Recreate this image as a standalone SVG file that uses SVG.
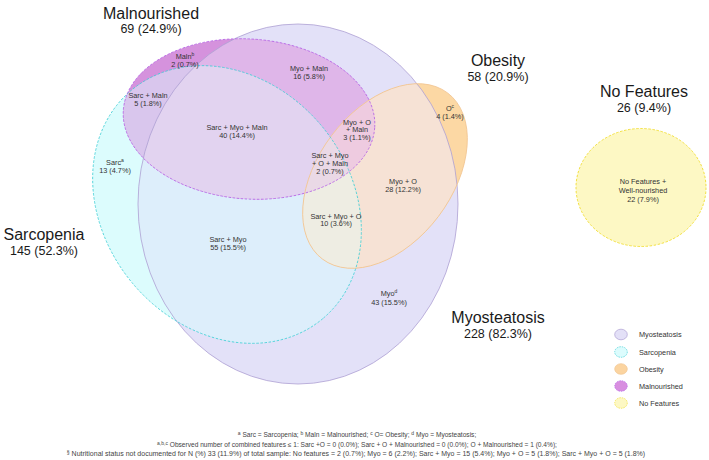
<svg xmlns="http://www.w3.org/2000/svg" xmlns:xlink="http://www.w3.org/1999/xlink" width="709" height="460" viewBox="0 0 709 460">
<style>
text{font-family:"Liberation Sans",Arial,Helvetica,sans-serif}
.big{font-size:16px;fill:#1a1a1a;text-anchor:middle}
.num{font-size:12.5px;fill:#1a1a1a;text-anchor:middle}
.lbl{font-size:7.3px;fill:#333;text-anchor:middle}
.sup{font-size:5px}
.leg{font-size:7.3px;fill:#333}
.foot{font-size:6.6px;fill:#444;text-anchor:middle}
.o-myo{fill:none;stroke:#ad9fd3;stroke-width:0.8}
.o-sarc{fill:none;stroke:#3fcfd6;stroke-width:0.8;stroke-dasharray:2.5 1.6}
.o-maln{fill:none;stroke:#b25fe6;stroke-width:0.8;stroke-dasharray:2.5 1.6}
.o-ob{fill:none;stroke:#f1c592;stroke-width:0.8}
.o-nf{fill:#fdf8c4;stroke:#f0dc2e;stroke-width:0.9;stroke-dasharray:2.5 1.6}
</style>
<defs>
<ellipse id="eMyo" cx="298" cy="204" rx="160" ry="180"/>
<ellipse id="eSarc" cx="227" cy="204.5" rx="149" ry="123" transform="rotate(50 227 204.5)"/>
<ellipse id="eMaln" cx="249" cy="119" rx="126" ry="80" transform="rotate(4 249 119)"/>
<ellipse id="eOb" cx="385" cy="176" rx="104" ry="67" transform="rotate(-53 385 176)"/>
<clipPath id="cMyo"><use xlink:href="#eMyo"/></clipPath>
<clipPath id="cSarc"><use xlink:href="#eSarc"/></clipPath>
<clipPath id="cMaln"><use xlink:href="#eMaln"/></clipPath>
</defs>
<rect width="709" height="460" fill="#fff"/>

<g id="myosteatosis">
<use xlink:href="#eMyo" fill="#e3e1f8"/>
</g>
<g id="sarcopenia">
<use xlink:href="#eSarc" fill="#dcfcfd"/>
<use xlink:href="#eSarc" fill="#ddeefb" clip-path="url(#cMyo)"/>
</g>
<g id="malnourished">
<use xlink:href="#eMaln" fill="#d592dd"/>
<use xlink:href="#eMaln" fill="#dfb6e9" clip-path="url(#cMyo)"/>
<use xlink:href="#eMaln" fill="#d9c6ed" clip-path="url(#cSarc)"/>
<g clip-path="url(#cSarc)"><use xlink:href="#eMaln" fill="#e2d3f0" clip-path="url(#cMyo)"/></g>
</g>
<g id="obesity">
<use xlink:href="#eOb" fill="#fcd8a4"/>
<use xlink:href="#eOb" fill="#f6e2d5" clip-path="url(#cMyo)"/>
<g clip-path="url(#cSarc)"><use xlink:href="#eOb" fill="#eeede3" clip-path="url(#cMyo)"/></g>
<g clip-path="url(#cMaln)"><use xlink:href="#eOb" fill="#eecbe0" clip-path="url(#cMyo)"/></g>
<g clip-path="url(#cMaln)"><g clip-path="url(#cSarc)"><use xlink:href="#eOb" fill="#ead9e6" clip-path="url(#cMyo)"/></g></g>
</g>
<g id="no-features">
<ellipse class="o-nf" cx="641" cy="187.5" rx="65" ry="59"/>
</g>

<g id="outlines">
<use xlink:href="#eMyo" class="o-myo"/>
<use xlink:href="#eOb" class="o-ob"/>
<use xlink:href="#eSarc" class="o-sarc"/>
<use xlink:href="#eMaln" class="o-maln"/>
</g>

<g id="set-labels">
<text class="big" x="151" y="18.5">Malnourished</text>
<text class="num" x="151" y="33">69 (24.9%)</text>
<text class="big" x="498" y="66">Obesity</text>
<text class="num" x="498" y="81">58 (20.9%)</text>
<text class="big" x="644" y="97">No Features</text>
<text class="num" x="644" y="111.5">26 (9.4%)</text>
<text class="big" x="44" y="240">Sarcopenia</text>
<text class="num" x="44" y="254.5">145 (52.3%)</text>
<text class="big" x="498" y="323">Myosteatosis</text>
<text class="num" x="498" y="338">228 (82.3%)</text>
</g>

<g id="region-labels">
<text class="lbl" x="185" y="58.5">Maln<tspan class="sup" dy="-2.6">b</tspan></text>
<text class="lbl" x="185" y="66.5">2 (0.7%)</text>
<text class="lbl" x="309" y="70.5">Myo + Maln</text>
<text class="lbl" x="309" y="78.5">16 (5.8%)</text>
<text class="lbl" x="148" y="97.5">Sarc + Maln</text>
<text class="lbl" x="148" y="105.5">5 (1.8%)</text>
<text class="lbl" x="237" y="129.5">Sarc + Myo + Maln</text>
<text class="lbl" x="237" y="137.5">40 (14.4%)</text>
<text class="lbl" x="115" y="164.5">Sarc<tspan class="sup" dy="-2.6">a</tspan></text>
<text class="lbl" x="115" y="172.5">13 (4.7%)</text>
<text class="lbl" x="357" y="124.5">Myo + O</text>
<text class="lbl" x="357" y="132">+ Maln</text>
<text class="lbl" x="357" y="139.5">3 (1.1%)</text>
<text class="lbl" x="330" y="157.5">Sarc + Myo</text>
<text class="lbl" x="330" y="165.5">+ O + Maln</text>
<text class="lbl" x="330" y="174">2 (0.7%)</text>
<text class="lbl" x="403" y="183.5">Myo + O</text>
<text class="lbl" x="403" y="191.5">28 (12.2%)</text>
<text class="lbl" x="336" y="218.5">Sarc + Myo + O</text>
<text class="lbl" x="336" y="226">10 (3.6%)</text>
<text class="lbl" x="450" y="111">O<tspan class="sup" dy="-2.6">c</tspan></text>
<text class="lbl" x="450" y="119">4 (1.4%)</text>
<text class="lbl" x="228" y="241.5">Sarc + Myo</text>
<text class="lbl" x="228" y="249.5">55 (15.5%)</text>
<text class="lbl" x="389" y="295.5">Myo<tspan class="sup" dy="-2.6">d</tspan></text>
<text class="lbl" x="389" y="304.5">43 (15.5%)</text>
<text class="lbl" x="643" y="183.5">No Features +</text>
<text class="lbl" x="643" y="192.5">Well-nourished</text>
<text class="lbl" x="643" y="202">22 (7.9%)</text>
</g>

<g id="legend">
<ellipse cx="621" cy="334.5" rx="6.3" ry="5.3" fill="#e3e0f7" stroke="#ad9fd3" stroke-width="0.7"/>
<text class="leg" x="639" y="337">Myosteatosis</text>
<ellipse cx="621" cy="352" rx="6.3" ry="5.3" fill="#dcfcfd" stroke="#3fcfd6" stroke-width="0.7" stroke-dasharray="1.5 1"/>
<text class="leg" x="639" y="354.5">Sarcopenia</text>
<ellipse cx="621" cy="369" rx="6.3" ry="5.3" fill="#fbd4a0" stroke="#f1c592" stroke-width="0.7"/>
<text class="leg" x="639" y="371.5">Obesity</text>
<ellipse cx="621" cy="386" rx="6.3" ry="5.3" fill="#d88fe0" stroke="#b25fe6" stroke-width="0.7" stroke-dasharray="1.5 1"/>
<text class="leg" x="639" y="388.5">Malnourished</text>
<ellipse cx="621" cy="403" rx="6.3" ry="5.3" fill="#fdf8c4" stroke="#f0dc2e" stroke-width="0.7" stroke-dasharray="1.5 1"/>
<text class="leg" x="639" y="405.5">No Features</text>
</g>

<g id="footnotes">
<text class="foot" x="357" y="437"><tspan class="sup" dy="-2">a</tspan><tspan dy="2"> Sarc = Sarcopenia; </tspan><tspan class="sup" dy="-2">b</tspan><tspan dy="2"> Maln = Malnourished; </tspan><tspan class="sup" dy="-2">c</tspan><tspan dy="2"> O= Obesity; </tspan><tspan class="sup" dy="-2">d</tspan><tspan dy="2"> Myo = Myosteatosis;</tspan></text>
<text class="foot" x="357" y="446.5"><tspan class="sup" dy="-2">a,b,c</tspan><tspan dy="2"> Observed number of combined features ≤ 1: Sarc +O = 0 (0.0%); Sarc + O + Malnourished = 0 (0.0%); O + Malnourished = 1 (0.4%);</tspan></text>
<text class="foot" x="356" y="456" style="font-size:7px"><tspan class="sup" dy="-2">§</tspan><tspan dy="2"> Nutritional status not documented for N (%) 33 (11.9%) of total sample: No features = 2 (0.7%); Myo = 6 (2.2%); Sarc + Myo = 15 (5.4%); Myo + O = 5 (1.8%); Sarc + Myo + O = 5 (1.8%)</tspan></text>
</g>
</svg>
